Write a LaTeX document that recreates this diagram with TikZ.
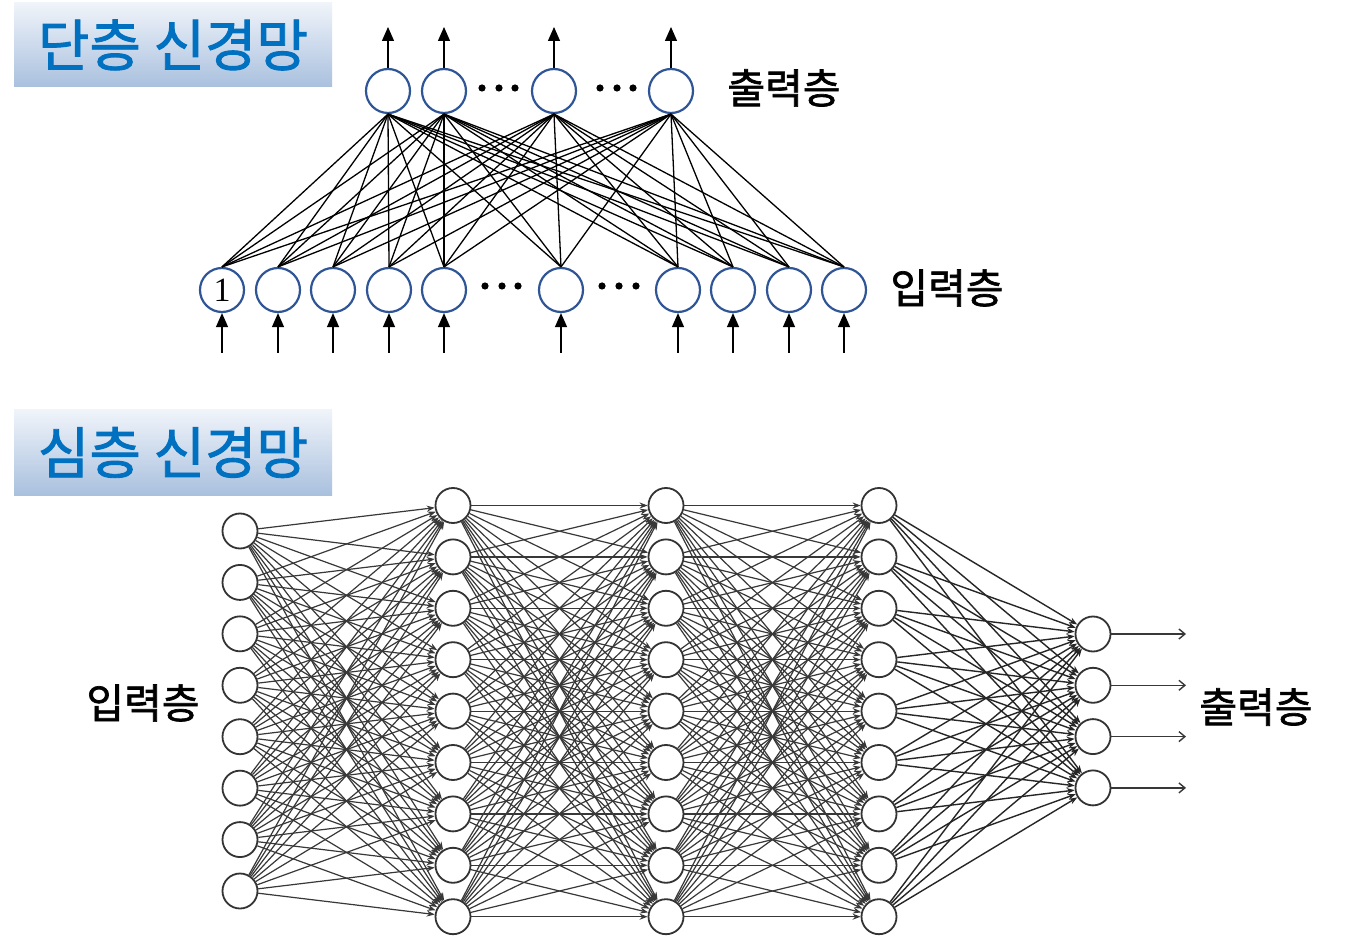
\documentclass[tikz,border=0pt]{standalone}
\usepackage{fontspec}
\usetikzlibrary{arrows.meta}
\newfontfamily\kr{Noto Sans CJK KR}[AutoFakeBold=1.6]
\newfontfamily\numfont{Liberation Serif}
\definecolor{tblue}{HTML}{0070C0}
\definecolor{tbtop}{HTML}{F0F4FA}
\definecolor{tbbot}{HTML}{A9C0DE}
\definecolor{ublue}{HTML}{2F5597}
\definecolor{synline}{HTML}{383838}
\tikzset{
  titlebox/.style={rectangle, inner sep=0pt, minimum width=159pt, minimum height=42pt,
    top color=tbtop, bottom color=tbbot, text=tblue,
    font=\kr\bfseries\fontsize{28}{28}\selectfont},
  lab/.style={inner sep=0pt, font=\kr\bfseries\fontsize{20.5}{20.5}\selectfont},
  unit/.style={circle, draw=ublue, line width=1.1pt, fill=white, minimum size=22pt, inner sep=0pt},
  wire/.style={black, line width=0.65pt},
  feed/.style={black, line width=0.65pt, -{Triangle[length=7pt,width=6pt]}},
  dotmark/.style={circle, fill=black, minimum size=3.6pt, inner sep=0pt},
  neuron/.style={circle, draw=black!80, line width=0.9pt, fill=white, minimum size=17.5pt, inner sep=0pt},
  syn/.style={synline, line width=0.6pt, -{Stealth[length=4pt,width=3pt]}},
  lastsyn/.style={syn, black!85, line width=0.7pt},
  outsyn/.style={synline, line width=0.7pt, -{Straight Barb[length=3pt,width=5pt]}}
}
\begin{document}
\begin{tikzpicture}[x=0.5pt,y=-0.5pt]
\useasboundingbox (0,0) rectangle (1356,952);
\fill[white] (0,0) rectangle (1356,952);

% section headings
\node[titlebox] (head1) at (173,45) {단층 신경망};
\node[titlebox, minimum height=42.5pt] (head2) at (173,452.5) {심층 신경망};

% ---------- single-layer network ----------
\foreach \n/\x in {1/388,2/444,3/554,4/671}
  \node[unit] (o\n) at (\x,91) {};
\foreach \n/\x in {1/222,2/278,3/333,4/389,5/444,6/561,7/678,8/733,9/789,10/844}
  \node[unit] (i\n) at (\x,290) {};
\node[font=\numfont\fontsize{17}{17}\selectfont, inner sep=0pt] (one) at (i1) {1};

\foreach \a in {1,...,10}
  \foreach \b in {1,...,4}
    \draw[wire] (i\a.north) -- (o\b.south);

\foreach \n/\x in {1/388,2/444,3/554,4/671} {
  \coordinate (oa\n) at (\x,27);
  \draw[feed] (o\n.north) -- (oa\n);
}
\foreach \n/\x in {1/222,2/278,3/333,4/389,5/444,6/561,7/678,8/733,9/789,10/844} {
  \coordinate (ia\n) at (\x,353);
  \draw[feed] (ia\n) -- (i\n.south);
}

% ellipsis dots
\foreach \k/\x/\y in {1/482/88,2/499/88,3/515/88,4/600/88,5/617/88,6/633/88,
                      7/485/286,8/502/286,9/518/286,10/602/286,11/619/286,12/636/286}
  \node[dotmark] (dot\k) at (\x,\y) {};

\node[lab] (outlab1) at (784,88) {출력층};
\node[lab] (inlab1) at (947,288) {입력층};

% ---------- deep network ----------
\foreach \i in {0,...,7}
  \node[neuron] (a\i) at (240,{531+51.43*\i}) {};
\foreach \i in {0,...,8} {
  \node[neuron] (b\i) at (453,{505.5+51.4*\i}) {};
  \node[neuron] (c\i) at (666,{505.5+51.4*\i}) {};
  \node[neuron] (d\i) at (879,{505.5+51.4*\i}) {};
}
\foreach \i in {0,...,3}
  \node[neuron] (e\i) at (1093,{634+51.3*\i}) {};

\foreach \i in {0,...,7}
  \foreach \j in {0,...,8}
    \draw[syn] (a\i) -- (b\j);
\foreach \i in {0,...,8}
  \foreach \j in {0,...,8} {
    \draw[syn] (b\i) -- (c\j);
    \draw[syn] (c\i) -- (d\j);
  }
\foreach \i in {0,...,8}
  \foreach \j in {0,...,3}
    \draw[lastsyn] (d\i) -- (e\j);

\foreach \i in {0,...,3} {
  \coordinate (ee\i) at (1186,{634+51.3*\i});
  \draw[outsyn] (e\i) -- (ee\i);
}

\node[lab] (inlab2) at (143,703) {입력층};
\node[lab] (outlab2) at (1256,707) {출력층};
\end{tikzpicture}
\end{document}
